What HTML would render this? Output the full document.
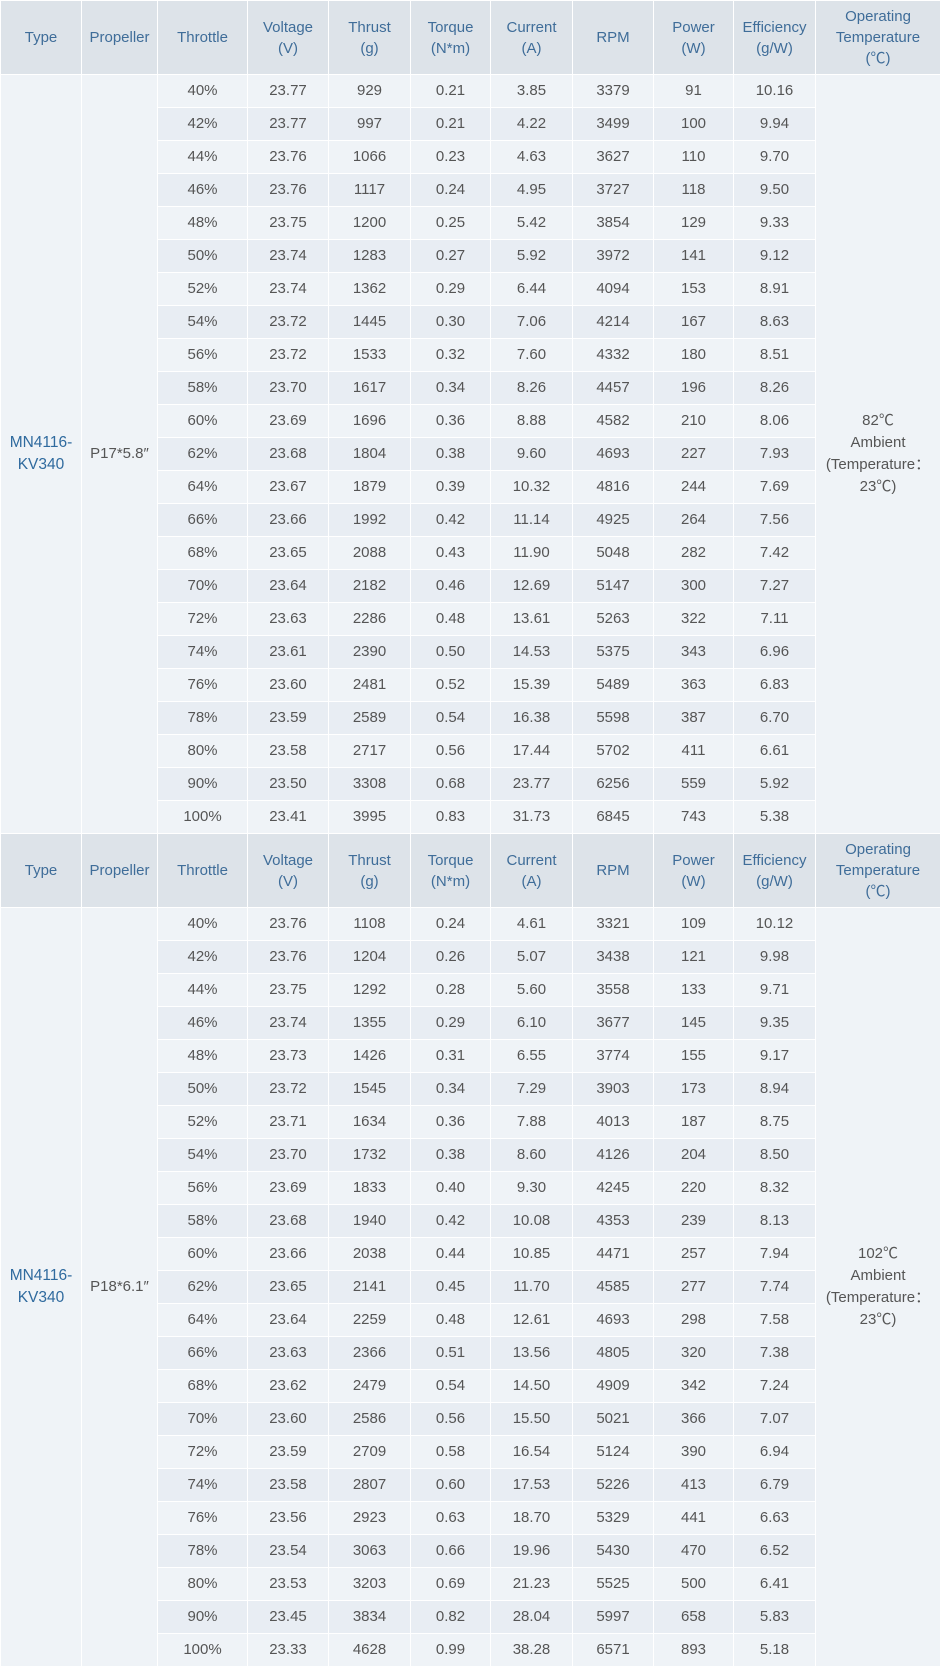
<!DOCTYPE html>
<html><head><meta charset="utf-8"><style>
body{margin:0;background:#eef2f6;}
table{border-collapse:collapse;width:940px;table-layout:fixed;font-family:"Liberation Sans","Noto Sans CJK SC",sans-serif;font-size:15px;color:#555;}
td,th{text-align:center;border:1px solid #fff;padding:0;}
th{background:#dde3e9;color:#3f6d99;font-weight:normal;height:73px;line-height:21px;font-size:15px;}
td{height:32px;line-height:32px;}
tr.a td{background:#eff3f7;}
tr.b td{background:#e8edf3;}
td.m{background:#eff3f7 !important;line-height:22px;}
td.t{color:#2f6a9e;font-size:15.5px;}
</style></head><body>
<table>
<colgroup><col style="width:81px"><col style="width:76px"><col style="width:90px"><col style="width:81px"><col style="width:82px"><col style="width:80px"><col style="width:82px"><col style="width:81px"><col style="width:80px"><col style="width:82px"><col style="width:125px"></colgroup>
<tbody id="t"></tbody></table>
<script>
var d1=`40%,23.77,929,0.21,3.85,3379,91,10.16
42%,23.77,997,0.21,4.22,3499,100,9.94
44%,23.76,1066,0.23,4.63,3627,110,9.70
46%,23.76,1117,0.24,4.95,3727,118,9.50
48%,23.75,1200,0.25,5.42,3854,129,9.33
50%,23.74,1283,0.27,5.92,3972,141,9.12
52%,23.74,1362,0.29,6.44,4094,153,8.91
54%,23.72,1445,0.30,7.06,4214,167,8.63
56%,23.72,1533,0.32,7.60,4332,180,8.51
58%,23.70,1617,0.34,8.26,4457,196,8.26
60%,23.69,1696,0.36,8.88,4582,210,8.06
62%,23.68,1804,0.38,9.60,4693,227,7.93
64%,23.67,1879,0.39,10.32,4816,244,7.69
66%,23.66,1992,0.42,11.14,4925,264,7.56
68%,23.65,2088,0.43,11.90,5048,282,7.42
70%,23.64,2182,0.46,12.69,5147,300,7.27
72%,23.63,2286,0.48,13.61,5263,322,7.11
74%,23.61,2390,0.50,14.53,5375,343,6.96
76%,23.60,2481,0.52,15.39,5489,363,6.83
78%,23.59,2589,0.54,16.38,5598,387,6.70
80%,23.58,2717,0.56,17.44,5702,411,6.61
90%,23.50,3308,0.68,23.77,6256,559,5.92
100%,23.41,3995,0.83,31.73,6845,743,5.38`;
var d2=`40%,23.76,1108,0.24,4.61,3321,109,10.12
42%,23.76,1204,0.26,5.07,3438,121,9.98
44%,23.75,1292,0.28,5.60,3558,133,9.71
46%,23.74,1355,0.29,6.10,3677,145,9.35
48%,23.73,1426,0.31,6.55,3774,155,9.17
50%,23.72,1545,0.34,7.29,3903,173,8.94
52%,23.71,1634,0.36,7.88,4013,187,8.75
54%,23.70,1732,0.38,8.60,4126,204,8.50
56%,23.69,1833,0.40,9.30,4245,220,8.32
58%,23.68,1940,0.42,10.08,4353,239,8.13
60%,23.66,2038,0.44,10.85,4471,257,7.94
62%,23.65,2141,0.45,11.70,4585,277,7.74
64%,23.64,2259,0.48,12.61,4693,298,7.58
66%,23.63,2366,0.51,13.56,4805,320,7.38
68%,23.62,2479,0.54,14.50,4909,342,7.24
70%,23.60,2586,0.56,15.50,5021,366,7.07
72%,23.59,2709,0.58,16.54,5124,390,6.94
74%,23.58,2807,0.60,17.53,5226,413,6.79
76%,23.56,2923,0.63,18.70,5329,441,6.63
78%,23.54,3063,0.66,19.96,5430,470,6.52
80%,23.53,3203,0.69,21.23,5525,500,6.41
90%,23.45,3834,0.82,28.04,5997,658,5.83
100%,23.33,4628,0.99,38.28,6571,893,5.18`;
var H='<tr><th>Type</th><th>Propeller</th><th>Throttle</th><th>Voltage<br>(V)</th><th>Thrust<br>(g)</th><th>Torque<br>(N*m)</th><th>Current<br>(A)</th><th>RPM</th><th>Power<br>(W)</th><th>Efficiency<br>(g/W)</th><th>Operating<br>Temperature<br>(℃)</th></tr>';
function blk(d,p,t){var r=d.split('\n'),s=H;r.forEach(function(l,i){s+='<tr class="'+(i%2?'b':'a')+'">';if(i==0)s+='<td class="m t" rowspan="23">MN4116-<br>KV340</td><td class="m" rowspan="23">'+p+'</td>';s+=l.split(',').map(function(v){return '<td>'+v+'</td>'}).join('');if(i==0)s+='<td class="m" rowspan="23">'+t+'<br>Ambient<br>(Temperature：<br>23℃)</td>';s+='</tr>';});return s;}
document.getElementById('t').innerHTML=blk(d1,'P17*5.8″','82℃')+blk(d2,'P18*6.1″','102℃');
</script>
</body></html>
